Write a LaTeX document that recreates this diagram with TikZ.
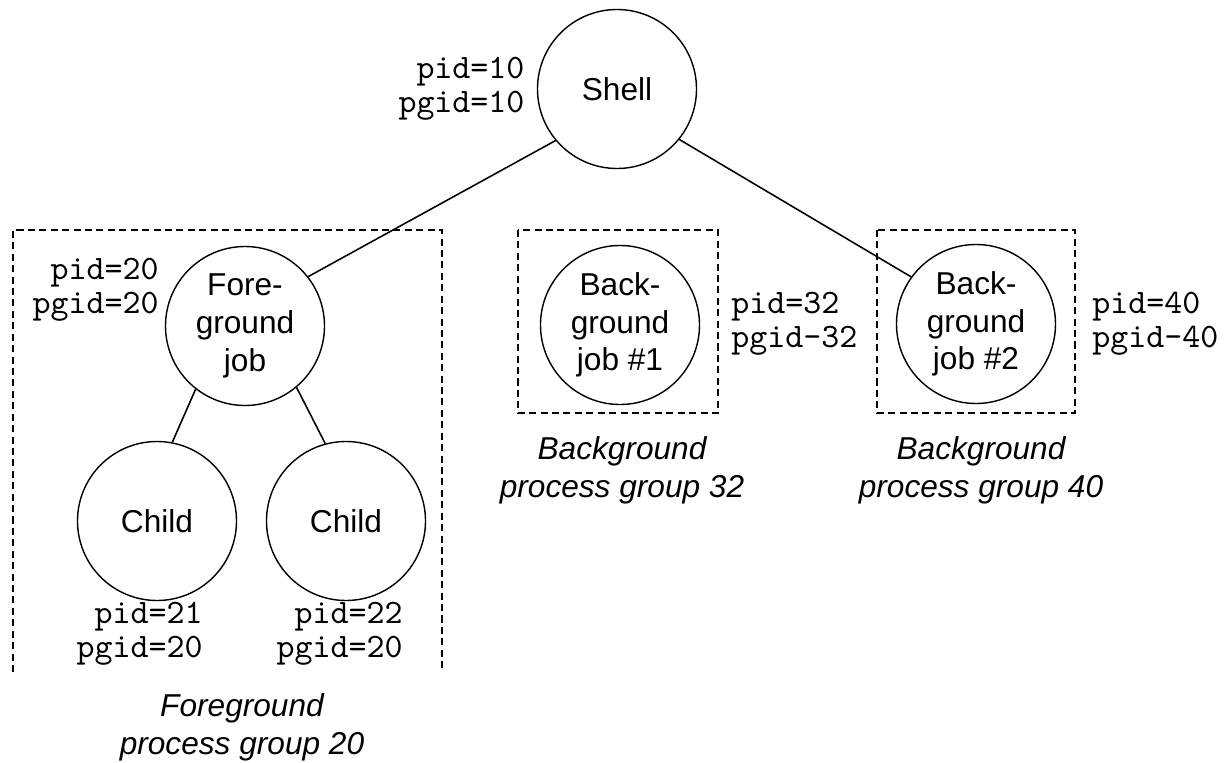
\documentclass[tikz,border=0pt]{standalone}
\usepackage{fontspec}
\setmainfont{Liberation Sans}
\newfontfamily\pidtt{lmmono10-regular.otf}
\usetikzlibrary{positioning}
\tikzset{
  proc/.style={circle,draw,line width=0.8pt,minimum size=31.8mm,inner sep=0pt,align=center,
    font=\fontsize{18}{21.5}\selectfont},
  pidlabel/.style={align=right,inner sep=0pt,font=\pidtt\fontsize{19.5}{19.5}\selectfont},
  rpidlabel/.style={pidlabel,align=left},
  grouplabel/.style={align=center,inner sep=0pt,font=\itshape\fontsize{18}{21.5}\selectfont},
  groupbox/.style={draw,line width=0.6pt,dash pattern=on 4pt off 2.5pt},
  every edge/.style={draw,line width=0.9pt}
}

\begin{document}
\begin{tikzpicture}[x=0.2mm,y=-0.2mm]
  \useasboundingbox (0,0) rectangle (1232,763);

  \node[proc] (shell) at (617,89) {Shell};
  \node[proc] (fg) at (245,326) {Fore-\\ground\\job};
  \node[proc] (c1) at (157,521) {Child};
  \node[proc] (c2) at (346,521) {Child};
  \node[proc] (bg1) at (620,325) {Back-\\ground\\job \#1};
  \node[proc] (bg2) at (976,324) {Back-\\ground\\job \#2};

  \node[pidlabel,left=2.4mm of shell] (shellid) {pid=10\\pgid=10};
  \node[pidlabel,anchor=east] (fgid) at (159,290) {pid=20\\pgid=20};
  \node[pidlabel,anchor=east] (c1id) at (203,634) {pid=21\\pgid=20};
  \node[pidlabel,anchor=east] (c2id) at (403,634) {pid=22\\pgid=20};
  \node[rpidlabel,anchor=west] (bg1id) at (731,324) {pid=32\\pgid-32};
  \node[rpidlabel,anchor=west] (bg2id) at (1092,324) {pid=40\\pgid-40};

  \draw[groupbox] (13,672) -- (13,230) -- (442,230) -- (442,672);
  \draw[groupbox] (518,230) rectangle (718,413);
  \draw[groupbox] (877,230) rectangle (1075,413);

  \node[grouplabel] (fggroup) at (242,727) {Foreground\\process group 20};
  \node[grouplabel] (bg1group) at (622,470) {Background\\process group 32};
  \node[grouplabel] (bg2group) at (981,470) {Background\\process group 40};

  \path
    (shell.220) edge (fg.38)
    (shell.321) edge (bg2.144)
    (fg.232) edge (c1.79)
    (fg.310) edge (c2.105);
\end{tikzpicture}
\end{document}
